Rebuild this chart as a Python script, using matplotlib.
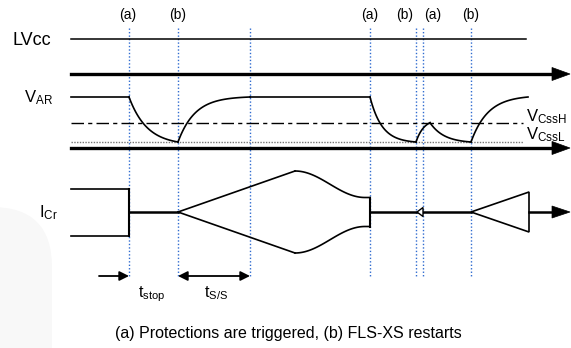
import numpy as np
import matplotlib.pyplot as plt
from matplotlib.patches import Polygon, FancyBboxPatch

plt.rcParams['font.family'] = ['Liberation Sans', 'DejaVu Sans']
plt.rcParams['mathtext.fontset'] = 'custom'
plt.rcParams['mathtext.rm'] = 'Liberation Sans'
plt.rcParams['mathtext.it'] = 'Liberation Sans'

# event markers along the time axis (pixel units of the sheet)
event_labels = ['(a)', '(b)', '(a)', '(b)', '(a)', '(b)']
event_label_x = [128, 178, 370, 405, 433, 471]
guide_x = [129, 178, 250, 370, 416, 423, 471]

x_start = 71
x_end = 526
arrow_end = 570

# signal rows (y positions, pixels from top)
lvcc_y = 39
lvcc_axis_y = 74
var_high = 97
css_h = 122.7
css_l = 142
var_axis_y = 148
icr_mid = 212
icr_on = 23.5       # half amplitude before the stop
icr_peak = 41       # half amplitude at top of soft start
icr_settle = 14.5   # half amplitude after soft start

# V_AR waveform: (x0, x1, y0, y1, tau); tau=None means flat
var_segments = [
    (x_start, 129, var_high, var_high, None),
    (129, 178, var_high, css_l, 18),
    (178, 250, css_l, var_high, 17),
    (250, 370, var_high, var_high, None),
    (370, 416, var_high, css_l, 12),
    (416, 430, css_l, css_h, 8),
    (430, 471, css_h, css_l, 14),
    (471, 528, css_l, var_high, 17),
]


def rc_curve(x0, x1, y0, y1, tau, n=80):
    t = np.linspace(0, x1 - x0, n)
    if tau is None:
        f = t / (x1 - x0)
    else:
        f = (1 - np.exp(-t / tau)) / (1 - np.exp(-(x1 - x0) / tau))
    return x0 + t, y0 + (y1 - y0) * f


def head(ax, x, y, length=18, half=6.5):
    ax.add_patch(Polygon([[x - length, y - half], [x, y], [x - length, y + half]],
                         closed=True, fc='black', ec='black', lw=0.5, zorder=4))


fig = plt.figure(figsize=(5.71, 3.48), dpi=100)
ax = fig.add_axes([0, 0, 1, 1])
ax.set_xlim(0, 571)
ax.set_ylim(348, 0)
ax.axis('off')

# faint background shape at lower left
ax.add_patch(FancyBboxPatch((-80, 207), 132, 220,
                            boxstyle='round,pad=0,rounding_size=60',
                            fc='#f8f8f8', ec='none', zorder=0))

# vertical guides and event labels
for gx in guide_x:
    ax.plot([gx, gx], [28, 278], color='#2f6bd0', lw=1.0, ls=(0, (1, 1.5)), zorder=1)
for lx, lab in zip(event_label_x, event_labels):
    ax.text(lx, 19, lab, ha='center', va='baseline', fontsize=10)

# LVcc row
ax.plot([x_start, x_end], [lvcc_y, lvcc_y], color='black', lw=1.1)
ax.plot([x_start, arrow_end - 16], [lvcc_axis_y, lvcc_axis_y], color='black', lw=2.4)
head(ax, arrow_end, lvcc_axis_y)
ax.text(13, 45, 'LVcc', ha='left', va='baseline', fontsize=13)

# V_AR row
ax.plot([x_start, 523], [css_h, css_h], color='black', lw=1.0, ls=(0, (9, 3, 3, 3)))
ax.plot([x_start, 523], [css_l, css_l], color='#777777', lw=1.0, ls=(0, (1, 1)))
for x0, x1, y0, y1, tau in var_segments:
    xs, ys = rc_curve(x0, x1, y0, y1, tau)
    ax.plot(xs, ys, color='black', lw=1.2, zorder=3)
ax.plot([x_start, arrow_end - 16], [var_axis_y, var_axis_y], color='black', lw=2.4)
head(ax, arrow_end, var_axis_y)
ax.text(24, 102, r'V$_{\mathrm{AR}}$', ha='left', va='baseline', fontsize=12)
ax.text(526, 121, r'V$_{\mathrm{CssH}}$', ha='left', va='baseline', fontsize=12)
ax.text(526, 139, r'V$_{\mathrm{CssL}}$', ha='left', va='baseline', fontsize=12)

# I_Cr row
for s in (-1, 1):
    ax.plot([x_start, 129], [icr_mid + s * icr_on] * 2, color='black', lw=1.2)
ax.plot([129, 129], [icr_mid - icr_on, icr_mid + icr_on], color='black', lw=1.5)
ax.plot([129, 178], [icr_mid, icr_mid], color='black', lw=1.8)

# soft start envelope: linear ramp, then smooth settle
ramp_x = np.array([178, 295])
settle_x = np.linspace(295, 365, 60)
settle_f = (1 - np.cos(np.pi * (settle_x - 295) / 70)) / 2
for s in (-1, 1):
    ax.plot(ramp_x, icr_mid + s * np.array([0, icr_peak]), color='black', lw=1.2)
    env = icr_peak + (icr_settle - icr_peak) * settle_f
    ax.plot(np.append(settle_x, 370), icr_mid + s * np.append(env, icr_settle),
            color='black', lw=1.2)
ax.plot([370, 370], [icr_mid - icr_settle, icr_mid + icr_settle], color='black', lw=1.5)
ax.plot([370, 471], [icr_mid, icr_mid], color='black', lw=1.8)

# brief restart pulse
ax.add_patch(Polygon([[417, icr_mid], [423, icr_mid - 4.5], [423, icr_mid + 4.5]],
                     closed=True, fc='white', ec='black', lw=1.0, zorder=4))

# final soft start
ax.add_patch(Polygon([[471, icr_mid], [529, icr_mid - 20], [529, icr_mid + 20]],
                     closed=True, fc='none', ec='black', lw=1.2, zorder=3))
ax.plot([529, arrow_end - 16], [icr_mid, icr_mid], color='black', lw=1.8)
head(ax, arrow_end, icr_mid, length=18, half=6)
ax.text(39, 217, r'I$_{\mathrm{Cr}}$', ha='left', va='baseline', fontsize=12)

# timing annotations
ax.annotate('', xy=(129, 276), xytext=(99, 276),
            arrowprops=dict(arrowstyle='-|>', lw=1.3, color='black',
                            mutation_scale=14, shrinkA=0, shrinkB=0))
ax.annotate('', xy=(250, 276), xytext=(178, 276),
            arrowprops=dict(arrowstyle='<|-|>', lw=1.3, color='black',
                            mutation_scale=14, shrinkA=0, shrinkB=0))
ax.text(138, 297, r't$_{\mathrm{stop}}$', ha='left', va='baseline', fontsize=11.5)
ax.text(204, 297, r't$_{\mathrm{S/S}}$', ha='left', va='baseline', fontsize=11.5)

ax.text(288, 338, '(a) Protections are triggered, (b) FLS-XS restarts',
        ha='center', va='baseline', fontsize=11.5)

fig.savefig('out.png', dpi=100)
